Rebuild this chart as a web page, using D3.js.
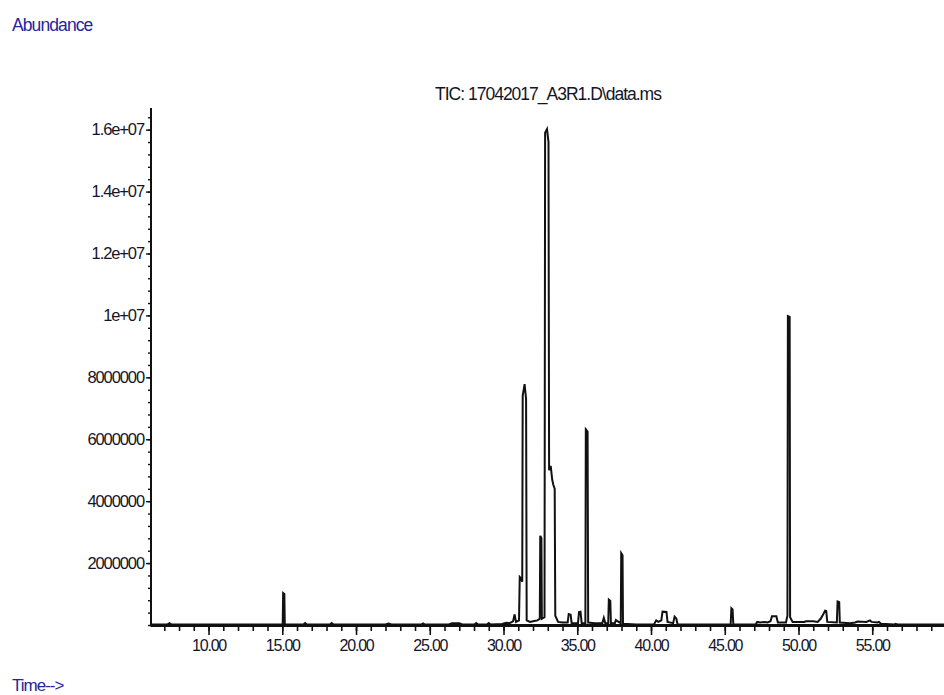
<!DOCTYPE html>
<html>
<head>
<meta charset="utf-8">
<script src="https://cdn.jsdelivr.net/npm/d3@7"></script>
<style>
  html, body { margin: 0; padding: 0; background: #fff; }
  svg { display: block; }
  text { font-family: "Liberation Sans", Arial, sans-serif; }
</style>
</head>
<body>
<svg id="chart" width="944" height="695"></svg>
<script>
// ---- data ----
const chartTitle = "TIC: 17042017_A3R1.D\\data.ms";
const yTitle = "Abundance";
const xTitle = "Time-->";

// retention time (min)
const scanTimes = [
  6.1, 7.2, 7.35, 7.5, 12.0, 15.03, 15.06, 15.14, 15.17, 15.3,
  16.45, 16.55, 16.65, 18.25, 18.35, 18.45, 22.0, 22.2, 22.4, 24.45,
  24.55, 24.65, 26.3, 26.5, 27.0, 27.2, 28.05, 28.15, 28.25, 28.9,
  29.0, 29.1, 29.9, 30.2, 30.4, 30.65, 30.75, 30.85, 31.05, 31.1,
  31.2, 31.27, 31.3, 31.43, 31.53, 31.57, 31.8, 32.0, 32.3, 32.46,
  32.49, 32.57, 32.6, 32.78, 32.82, 32.95, 33.05, 33.09, 33.2, 33.3,
  33.38, 33.47, 33.51, 33.7, 34.0, 34.35, 34.42, 34.55, 34.62, 35.05,
  35.12, 35.22, 35.3, 35.55, 35.58, 35.7, 35.74, 36.2, 36.7, 36.8,
  36.9, 37.1, 37.14, 37.24, 37.28, 37.55, 37.62, 37.75, 37.95, 37.98,
  38.07, 38.1, 39.0, 40.2, 40.35, 40.5, 40.7, 40.78, 41.05, 41.12,
  41.5, 41.6, 41.72, 41.8, 45.4, 45.45, 45.53, 45.58, 47.1, 47.2,
  47.4, 47.7, 47.9, 48.1, 48.2, 48.5, 48.6, 49.15, 49.25, 49.28,
  49.4, 49.43, 49.6, 50.4, 50.5, 51.0, 51.3, 51.5, 51.65, 51.8,
  51.88, 51.95, 52.6, 52.65, 52.76, 52.8, 53.5, 53.85, 54.0, 54.6,
  54.85, 54.95, 55.35, 55.45, 55.6, 56.5, 56.6, 56.7, 60.0
];
// total ion current abundance
const abundance = [
  15000, 15000, 60000, 15000, 15000, 15000, 1030000, 1000000, 20000, 20000,
  20000, 60000, 20000, 20000, 60000, 20000, 20000, 50000, 20000, 20000,
  50000, 20000, 20000, 60000, 60000, 20000, 20000, 60000, 20000, 20000,
  60000, 20000, 30000, 70000, 60000, 120000, 340000, 100000, 150000, 1550000,
  1500000, 1400000, 7400000, 7780000, 7300000, 150000, 100000, 120000, 150000, 200000,
  2880000, 2800000, 200000, 250000, 15900000, 16020000, 15600000, 5000000, 5140000, 4700000,
  4520000, 4400000, 300000, 100000, 80000, 80000, 350000, 330000, 60000, 60000,
  420000, 430000, 60000, 60000, 6320000, 6250000, 80000, 60000, 60000, 230000,
  60000, 60000, 820000, 780000, 60000, 60000, 160000, 120000, 60000, 2320000,
  2250000, 40000, 20000, 20000, 150000, 100000, 150000, 430000, 420000, 100000,
  60000, 270000, 200000, 20000, 20000, 540000, 500000, 20000, 20000, 100000,
  80000, 100000, 80000, 120000, 280000, 280000, 80000, 80000, 300000, 9980000,
  9950000, 250000, 100000, 100000, 120000, 120000, 100000, 200000, 320000, 460000,
  450000, 100000, 80000, 760000, 740000, 80000, 60000, 80000, 110000, 100000,
  150000, 100000, 80000, 100000, 40000, 20000, 40000, 15000, 15000
];

// axis ticks
const xMajorTicks = [10, 15, 20, 25, 30, 35, 40, 45, 50, 55];
const xMinorTicks = d3.range(7, 60, 1);
const yMajorTicks = [2000000, 4000000, 6000000, 8000000, 10000000, 12000000, 14000000, 16000000];
const yTickLabels = ["2000000", "4000000", "6000000", "8000000", "1e+07", "1.2e+07", "1.4e+07", "1.6e+07"];
const yMinorTicks = d3.range(0, 16800000, 400000);

// ---- drawing ----
const svg = d3.select("#chart");
const x = d3.scaleLinear().domain([6.1, 60]).range([151, 946]);
const y = d3.scaleLinear().domain([0, 16700000]).range([625, 108]);

const ink = "#111";
const labelInk = "#141428";
const blue = "#25259a";
const fontFam = "'Liberation Sans', Arial, sans-serif";

// y axis minor
svg.append("g")
  .attr("transform", `translate(${x(6.1)},0)`)
  .call(d3.axisLeft(y).tickValues(yMinorTicks).tickSize(3).tickFormat(""))
  .call(g => g.select(".domain").remove())
  .call(g => g.selectAll("line").attr("stroke", ink).attr("stroke-width", 1.4));

// y axis major
const yAx = svg.append("g")
  .attr("transform", `translate(${x(6.1)},0)`)
  .call(d3.axisLeft(y).tickValues(yMajorTicks).tickSize(5).tickPadding(2)
        .tickFormat((d, i) => yTickLabels[i]))
  .call(g => g.select(".domain").remove());
yAx.selectAll("line").attr("stroke", ink).attr("stroke-width", 1.4);
yAx.selectAll("text").attr("fill", labelInk).style("font-size", "16.5px")
  .style("letter-spacing", "-1.1px").style("font-family", fontFam);

// x axis minor
svg.append("g")
  .attr("transform", `translate(0,${y(0)})`)
  .call(d3.axisBottom(x).tickValues(xMinorTicks).tickSize(6).tickFormat(""))
  .call(g => g.select(".domain").remove())
  .call(g => g.selectAll("line").attr("stroke", ink).attr("stroke-width", 1.6));

// x axis major
const xAx = svg.append("g")
  .attr("transform", `translate(0,${y(0)})`)
  .call(d3.axisBottom(x).tickValues(xMajorTicks).tickSize(10).tickPadding(5)
        .tickFormat(d3.format(".2f")))
  .call(g => g.select(".domain").remove());
xAx.selectAll("line").attr("stroke", ink).attr("stroke-width", 1.6);
xAx.selectAll("text").attr("fill", labelInk).style("font-size", "16px")
  .style("letter-spacing", "-1.2px").style("font-family", fontFam);

// axis lines
svg.append("line")
  .attr("x1", x(6.1)).attr("x2", 944)
  .attr("y1", y(0) + 0.5).attr("y2", y(0) + 0.5)
  .attr("stroke", ink).attr("stroke-width", 3);
svg.append("line")
  .attr("x1", x(6.1)).attr("x2", x(6.1))
  .attr("y1", y(16700000)).attr("y2", y(0) + 1.5)
  .attr("stroke", ink).attr("stroke-width", 2);

// chromatogram trace
const pts = scanTimes.map((t, i) => [t, abundance[i]]);
svg.append("path")
  .datum(pts)
  .attr("fill", "none")
  .attr("stroke", ink)
  .attr("stroke-width", 2)
  .attr("stroke-linejoin", "miter")
  .attr("d", d3.line().x(d => x(d[0])).y(d => y(d[1])));

// texts
svg.append("text")
  .attr("x", 548).attr("y", 100)
  .attr("text-anchor", "middle")
  .attr("fill", labelInk)
  .style("font-size", "17.5px").style("letter-spacing", "-1px")
  .text(chartTitle);

svg.append("text")
  .attr("x", 12).attr("y", 31)
  .attr("fill", blue)
  .style("font-size", "17.5px").style("letter-spacing", "-0.9px")
  .text(yTitle);

svg.append("text")
  .attr("x", 12).attr("y", 691)
  .attr("fill", blue)
  .style("font-size", "17px").style("letter-spacing", "-1px")
  .text(xTitle);
</script>
</body>
</html>
